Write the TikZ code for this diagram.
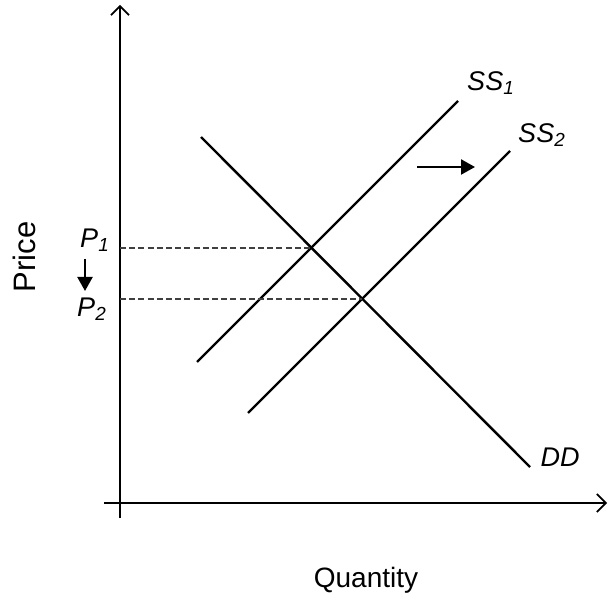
\documentclass[tikz,border=0pt]{standalone}
\usepackage{fontspec}
\setmainfont{Liberation Sans}
\usetikzlibrary{arrows.meta,positioning}

\begin{document}
\begin{tikzpicture}[x=0.5pt,y=-0.5pt,font=\fontsize{14}{16}\selectfont,>=Latex,
  curve/.style={line width=1.2pt},
  guide/.style={line width=0.6pt,black!75,dash pattern=on 3pt off 1.6pt},
  axis/.style={line width=0.85pt,-{Straight Barb[length=4.5pt,width=9pt]}},
  moveto/.style={line width=1.1pt,-{Triangle[length=7pt,width=7.5pt]}},
  lab/.style={font=\fontsize{13.5}{15}\selectfont\itshape,inner sep=0pt}]
  \useasboundingbox (0,0) rectangle (608,603);
  % axes
  \coordinate (ybot) at (120,518); \coordinate (ytop) at (120,5);
  \coordinate (xbeg) at (104,503); \coordinate (xend) at (607,503);
  \draw[axis] (ybot) -- (ytop);
  \draw[axis] (xbeg) -- (xend);
  \node[rotate=90,font=\fontsize{15.5}{17}\selectfont] (price) at (24,257) {Price};
  \node (qty) at (366,580) {Quantity};
  % demand and the two supply lines
  \coordinate (dd0) at (201,137); \coordinate (dd1) at (530,467);
  \coordinate (s10) at (197,362); \coordinate (s11) at (458,101);
  \coordinate (s20) at (248,413); \coordinate (s21) at (510,151);
  \draw[curve] (dd0) -- (dd1);
  \draw[curve] (s10) -- (s11);
  \draw[curve] (s20) -- (s21);
  \node[lab] (ss1) at (491,83) {SS\textsubscript{1}};
  \node[lab] (ss2) at (542,135) {SS\textsubscript{2}};
  \node[lab] (dd) at (560,457) {DD};
  % equilibria
  \coordinate (e1) at (311,248); \coordinate (e2) at (362,299);
  \draw[guide] (e1 -| ybot) -- (e1);
  \draw[guide] (e2 -| ybot) -- (e2);
  \node[lab] (p1) at (95,240) {P\textsubscript{1}};
  \node[lab] (p2) at (92,309) {P\textsubscript{2}};
  \coordinate (pa) at (85,259); \coordinate (pb) at (85,291);
  \draw[moveto] (pa) -- (pb);
  \coordinate (sa) at (417,167); \coordinate (sb) at (475,167);
  \draw[moveto] (sa) -- (sb);
\end{tikzpicture}
\end{document}
